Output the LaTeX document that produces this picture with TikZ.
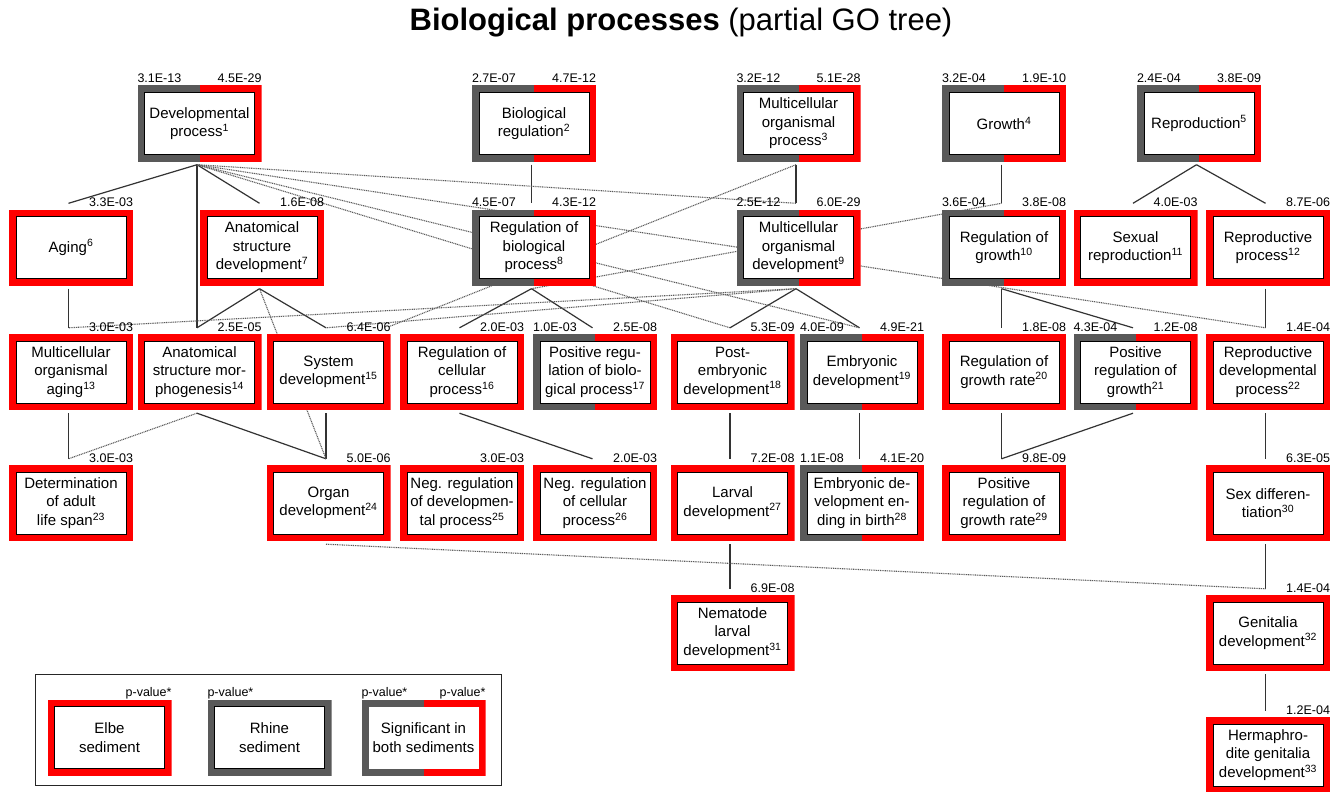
\documentclass[tikz,border=0pt]{standalone}
\usepackage{fontspec}
\setmainfont{Liberation Sans}
\usetikzlibrary{calc}
\definecolor{elbered}{HTML}{FF0000}
\definecolor{rhinegray}{HTML}{595959}
\definecolor{edgegray}{HTML}{333333}
\definecolor{dotgray}{HTML}{5A5A5A}
\pgfdeclarelayer{paper}
\pgfdeclarelayer{background}
\pgfsetlayers{paper,background,main}
\newcommand\nodefont{\fontsize{15}{18.5}\selectfont}
\newcommand\pvfont{\fontsize{12.5}{14}\selectfont}
\newcommand\gsup[1]{\textsuperscript{#1}}
\newcommand\goinner{\filldraw[fill=white,draw=black,line width=1pt]([shift={(7pt,-7pt)}]path picture bounding box.north west) rectangle ([shift={(-7pt,7pt)}]path picture bounding box.south east);}
\newcommand\goinnerplain{\fill[white]([shift={(7pt,-7pt)}]path picture bounding box.north west) rectangle ([shift={(-7pt,7pt)}]path picture bounding box.south east);}
\newcommand\goedge[3]{\draw[#1] ([xshift=-2.5pt,yshift=-3pt]#2.south) -- ([xshift=-2.5pt,yshift=6pt]#3.north);}
\newcommand\pvr[2]{\node[pv,anchor=base east] (#1r) at ([yshift=2.5pt]#1.north east) {#2};}
\newcommand\pvl[2]{\node[pv,anchor=base west] (#1l) at ([yshift=2.5pt]#1.north west) {#2};}
\tikzset{
  gobox/.style={rectangle, minimum width=124pt, minimum height=76pt, inner sep=0pt, align=center, font=\nodefont},
  elbe/.style={gobox, path picture={\fill[elbered] (path picture bounding box.south west) rectangle (path picture bounding box.north east); \goinner}},
  rhine/.style={gobox, path picture={\fill[rhinegray] (path picture bounding box.south west) rectangle (path picture bounding box.north east); \goinner}},
  both/.style={gobox, path picture={\fill[rhinegray] (path picture bounding box.south west) rectangle (path picture bounding box.north); \fill[elbered] (path picture bounding box.south) rectangle (path picture bounding box.north east); \goinner}},
  bothplain/.style={gobox, path picture={\fill[rhinegray] (path picture bounding box.south west) rectangle (path picture bounding box.north); \fill[elbered] (path picture bounding box.south) rectangle (path picture bounding box.north east); \goinnerplain}},
  pv/.style={font=\pvfont, inner sep=0pt},
  isa/.style={draw=edgegray, line width=1.2pt},
  rel/.style={draw=dotgray, line width=1.1pt, dash pattern=on 1pt off 0.8pt},
}
\begin{document}
\begin{tikzpicture}[x=1pt,y=-1pt]
\useasboundingbox (0,0) rectangle (1339,792);
\begin{pgfonlayer}{paper}
\fill[white] (0,0) rectangle (1339,792);
\end{pgfonlayer}
\node[font=\fontsize{31}{36}\selectfont] (title) at (681,23) {\textbf{Biological processes} (partial GO tree)};

% row 1
\node[both] (n1) at (199.5,123.5) {Developmental\\process\gsup{1}};
\node[both] (n2) at (534,123.5) {Biological\\regulation\gsup{2}};
\node[both] (n3) at (798.5,123.5) {Multicellular\\organismal\\process\gsup{3}};
\node[both] (n4) at (1004,123.5) {Growth\gsup{4}};
\node[both] (n5) at (1199,123.5) {Reproduction\gsup{5}};
% row 2
\node[elbe] (n6) at (71,247.5) {Aging\gsup{6}};
\node[elbe] (n7) at (262,247.5) {Anatomical\\structure\\development\gsup{7}};
\node[both] (n8) at (534,247.5) {Regulation of\\biological\\process\gsup{8}};
\node[both] (n9) at (798.5,247.5) {Multicellular\\organismal\\development\gsup{9}};
\node[both] (n10) at (1004,247.5) {Regulation of\\growth\gsup{10}};
\node[elbe] (n11) at (1135.5,247.5) {Sexual\\reproduction\gsup{11}};
\node[elbe] (n12) at (1268,247.5) {Reproductive\\process\gsup{12}};
% row 3
\node[elbe] (n13) at (71,372) {Multicellular\\organismal\\aging\gsup{13}};
\node[elbe] (n14) at (199.5,372) {Anatomical\\structure mor-\\phogenesis\gsup{14}};
\node[elbe] (n15) at (328.5,372) {System\\development\gsup{15}};
\node[elbe] (n16) at (462,372) {Regulation of\\cellular\\process\gsup{16}};
\node[both] (n17) at (595,372) {Positive regu-\\lation of biolo-\\gical process\gsup{17}};
\node[elbe] (n18) at (732.5,372) {Post-\\embryonic\\development\gsup{18}};
\node[both] (n19) at (862,372) {Embryonic\\development\gsup{19}};
\node[elbe] (n20) at (1004,372) {Regulation of\\growth rate\gsup{20}};
\node[both] (n21) at (1135.5,372) {Positive\\regulation of\\growth\gsup{21}};
\node[elbe] (n22) at (1268,372) {Reproductive\\developmental\\process\gsup{22}};
% row 4
\node[elbe] (n23) at (71,503) {Determination\\of adult\\life span\gsup{23}};
\node[elbe] (n24) at (328.5,503) {Organ\\development\gsup{24}};
\node[elbe] (n25) at (462,503) {Neg. regulation\\of developmen-\\tal process\gsup{25}};
\node[elbe] (n26) at (595,503) {Neg. regulation\\of cellular\\process\gsup{26}};
\node[elbe] (n27) at (732.5,503) {Larval\\development\gsup{27}};
\node[both] (n28) at (862,503) {Embryonic de-\\velopment en-\\ding in birth\gsup{28}};
\node[elbe] (n29) at (1004,503) {Positive\\regulation of\\growth rate\gsup{29}};
\node[elbe] (n30) at (1268,503) {Sex differen-\\tiation\gsup{30}};
% row 5, 6
\node[elbe] (n31) at (732.5,633) {Nematode\\larval\\development\gsup{31}};
\node[elbe] (n32) at (1268,633) {Genitalia\\development\gsup{32}};
\node[elbe] (n33) at (1268,755) {Hermaphro-\\dite genitalia\\development\gsup{33}};

% p-values
\pvl{n1}{3.1E-13}\pvr{n1}{4.5E-29}
\pvl{n2}{2.7E-07}\pvr{n2}{4.7E-12}
\pvl{n3}{3.2E-12}\pvr{n3}{5.1E-28}
\pvl{n4}{3.2E-04}\pvr{n4}{1.9E-10}
\pvl{n5}{2.4E-04}\pvr{n5}{3.8E-09}
\pvr{n6}{3.3E-03}
\pvr{n7}{1.6E-08}
\pvl{n8}{4.5E-07}\pvr{n8}{4.3E-12}
\pvl{n9}{2.5E-12}\pvr{n9}{6.0E-29}
\pvl{n10}{3.6E-04}\pvr{n10}{3.8E-08}
\pvr{n11}{4.0E-03}
\pvr{n12}{8.7E-06}
\pvr{n13}{3.0E-03}
\pvr{n14}{2.5E-05}
\pvr{n15}{6.4E-06}
\pvr{n16}{2.0E-03}
\pvl{n17}{1.0E-03}\pvr{n17}{2.5E-08}
\pvr{n18}{5.3E-09}
\pvl{n19}{4.0E-09}\pvr{n19}{4.9E-21}
\pvr{n20}{1.8E-08}
\pvl{n21}{4.3E-04}\pvr{n21}{1.2E-08}
\pvr{n22}{1.4E-04}
\pvr{n23}{3.0E-03}
\pvr{n24}{5.0E-06}
\pvr{n25}{3.0E-03}
\pvr{n26}{2.0E-03}
\pvr{n27}{7.2E-08}
\pvl{n28}{1.1E-08}\pvr{n28}{4.1E-20}
\pvr{n29}{9.8E-09}
\pvr{n30}{6.3E-05}
\pvr{n31}{6.9E-08}
\pvr{n32}{1.4E-04}
\pvr{n33}{1.2E-04}

% legend
\node[draw=black!85, line width=0.9pt, minimum width=466pt, minimum height=111pt, inner sep=0pt, anchor=north west] (legend) at (35,674) {};
\node[elbe] (le) at (109.5,737.5) {Elbe\\sediment};
\node[rhine] (lr) at (269.5,737.5) {Rhine\\sediment};
\node[bothplain] (lb) at (423.5,737.5) {Significant in\\both sediments};
\pvr{le}{p-value*}
\pvl{lr}{p-value*}
\pvl{lb}{p-value*}\pvr{lb}{p-value*}

% connectors
\begin{pgfonlayer}{background}
\goedge{isa}{n1}{n6}
\goedge{isa}{n1}{n7}
\goedge{isa}{n1}{n14}
\goedge{isa}{n2}{n8}
\goedge{isa}{n3}{n9}
\goedge{isa}{n4}{n10}
\goedge{isa}{n5}{n11}
\goedge{isa}{n5}{n12}
\goedge{isa}{n6}{n13}
\goedge{isa}{n7}{n14}
\goedge{isa}{n7}{n15}
\goedge{isa}{n8}{n16}
\goedge{isa}{n8}{n17}
\goedge{isa}{n9}{n18}
\goedge{isa}{n9}{n19}
\goedge{isa}{n10}{n20}
\goedge{isa}{n10}{n21}
\goedge{isa}{n12}{n22}
\goedge{isa}{n13}{n23}
\goedge{isa}{n14}{n24}
\goedge{isa}{n15}{n24}
\goedge{isa}{n16}{n26}
\goedge{isa}{n18}{n27}
\goedge{isa}{n19}{n28}
\goedge{isa}{n20}{n29}
\goedge{isa}{n21}{n29}
\goedge{isa}{n22}{n30}
\goedge{isa}{n27}{n31}
\goedge{isa}{n30}{n32}
\goedge{isa}{n32}{n33}
\goedge{rel}{n1}{n9}
\goedge{rel}{n1}{n18}
\goedge{rel}{n1}{n19}
\goedge{rel}{n1}{n22}
\goedge{rel}{n7}{n24}
\goedge{rel}{n8}{n10}
\goedge{rel}{n9}{n13}
\goedge{rel}{n9}{n15}
\goedge{rel}{n14}{n23}
\goedge{rel}{n24}{n32}
\draw[rel] ([xshift=-2.5pt,yshift=-3pt]n3.south) -- ([xshift=-2pt,yshift=7pt]n15.north east);
\end{pgfonlayer}
\end{tikzpicture}
\end{document}
